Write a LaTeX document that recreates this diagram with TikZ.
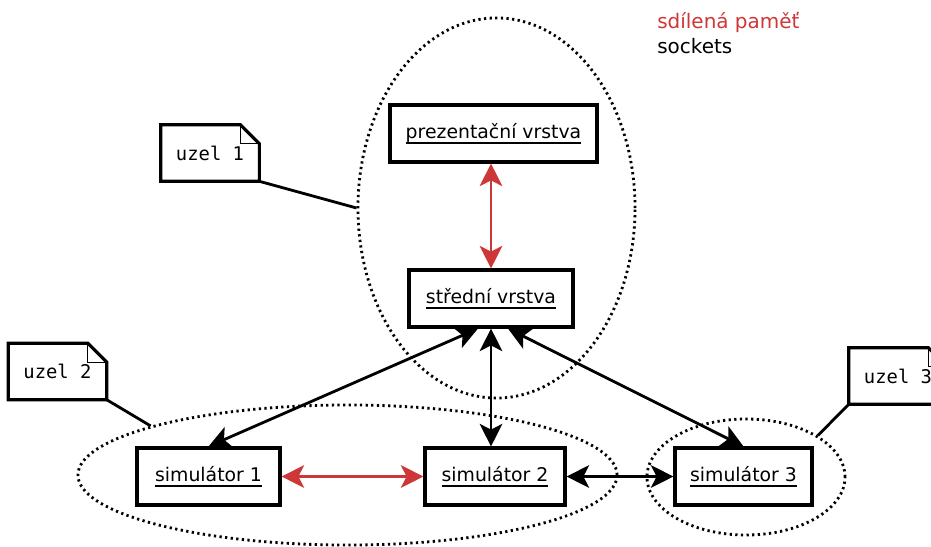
\documentclass[tikz,border=0pt]{standalone}
\usepackage{fontspec}
\setmainfont{DejaVu Sans}
\setmonofont{DejaVu Sans Mono}
\usetikzlibrary{shapes.geometric}
\usetikzlibrary{arrows.meta,calc}
\definecolor{shmred}{RGB}{205,55,55}
\newsavebox\ulbox
\newcommand\ulabel[1]{\sbox\ulbox{#1}\rlap{\rule[-3.6pt]{\wd\ulbox}{1pt}}\usebox\ulbox}

\begin{document}
\begin{tikzpicture}[x=0.025cm, y=-0.025cm,
  layer/.style={draw, line width=2.2pt, minimum height=1.425cm, inner sep=0pt,
    font=\fontsize{13.4}{16}\selectfont},
  uzel/.style={minimum width=2.45cm, minimum height=1.4cm, inner sep=0pt,
    font=\ttfamily\fontsize{13.4}{16}\selectfont},
  group/.style={ellipse, draw, line width=2pt, dash pattern=on 1.6pt off 2.4pt, inner sep=0pt},
  bi/.style={line width=2pt,
    {Stealth[length=16pt,width=16pt,inset=4pt]}-{Stealth[length=16pt,width=16pt,inset=4pt]}},
  shm/.style={bi, shmred}]
  \useasboundingbox (0,0) rectangle (931,546);
  % groups of processes
  \node[group, minimum width=6.925cm, minimum height=9.5cm] (node1) at (496.5,208) {};
  \node[group, minimum width=13.475cm, minimum height=3.5cm] (node2) at (347.5,475) {};
  \node[group, minimum width=4.95cm, minimum height=2.9cm] (node3) at (746,477) {};
  % layers
  \node[layer, minimum width=5.175cm] (prez) at (493.5,133.5) {\ulabel{prezentační vrstva}};
  \node[layer, minimum width=4.1cm] (stred) at (491,298.5) {\ulabel{střední vrstva}};
  \node[layer, minimum width=3.575cm] (sim1) at (208.5,476.5) {\ulabel{simulátor 1}};
  \node[layer, minimum width=3.5cm] (sim2) at (495,476.5) {\ulabel{simulátor 2}};
  \node[layer, minimum width=3.425cm] (sim3) at (743.5,476.5) {\ulabel{simulátor 3}};
  % notes
  \node[uzel] (uzel1) at (210,153) {uzel 1};
  \node[uzel] (uzel2) at (57.5,371.5) {uzel 2};
  \node[uzel] (uzel3) at (898,376) {uzel 3};
  \foreach \n in {uzel1,uzel2,uzel3}{
  \draw[line width=2.2pt] (\n.south west) -- (\n.north west) -- ($(\n.north east)+(-19,0)$)
    -- ($(\n.north east)+(0,19)$) -- (\n.south east) -- cycle;
  \draw[line width=1pt] ($(\n.north east)+(-19,0)$) |- ($(\n.north east)+(0,19)$);
  }
  \draw[line width=2pt] (uzel1.south east) -- (node1.180);
  \draw[line width=2pt] (uzel2.south east) -- (node2.166);
  \draw[line width=2pt] (uzel3.south west) -- (node3.30);
  % legend
  \node[anchor=base west, inner sep=0pt, text=shmred, font=\fontsize{14.2}{17}\selectfont]
    (legshm) at (657,28) {sdílená paměť};
  \node[anchor=base west, inner sep=0pt, font=\fontsize{14.2}{17}\selectfont]
    (legsock) at (657,53) {sockets};
  % links
  \draw[shm] (stred.north) -- (stred.north |- prez.south);
  \draw[bi] ($(stred.south)+(-13,0)$) -- (sim1.north);
  \draw[bi] (stred.south) -- (stred.south |- sim2.north);
  \draw[bi] ($(stred.south)+(17,0)$) -- (sim3.north);
  \draw[shm] (sim1.east) -- (sim2.west);
  \draw[bi] (sim2.east) -- (sim3.west);
\end{tikzpicture}
\end{document}
